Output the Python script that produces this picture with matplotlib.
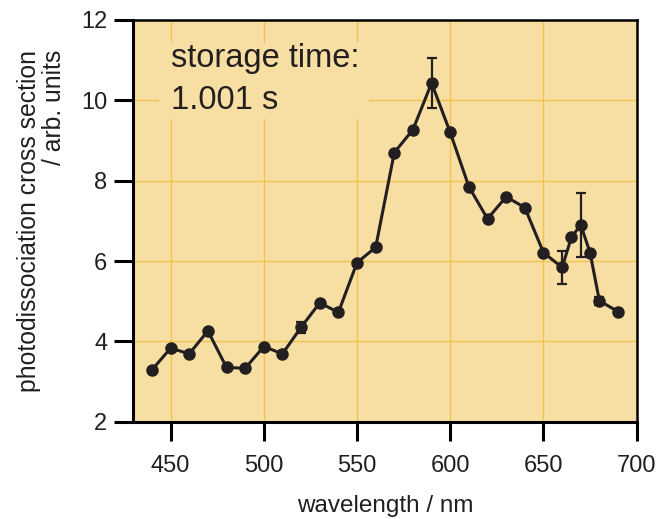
import matplotlib
matplotlib.use("Agg")
import matplotlib.pyplot as plt
import numpy as np
from matplotlib.patches import Rectangle

# Photodissociation spectrum (storage time 1.001 s)
wavelength = [440, 450, 460, 470, 480, 490, 500, 510, 520, 530, 540, 550, 560,
              570, 580, 590, 600, 610, 620, 630, 640, 650, 660, 665, 670, 675,
              680, 690]
cross_section = [3.29, 3.83, 3.69, 4.26, 3.35, 3.33, 3.87, 3.69, 4.35, 4.96,
                 4.72, 5.96, 6.34, 8.70, 9.27, 10.43, 9.20, 7.85, 7.05, 7.60,
                 7.33, 6.21, 5.84, 6.59, 6.90, 6.21, 5.01, 4.74]
uncertainty = [0, 0, 0, 0, 0, 0, 0, 0, 0.13, 0, 0, 0, 0, 0, 0, 0.62, 0, 0, 0,
               0, 0, 0, 0.41, 0, 0.80, 0, 0.10, 0]

x_ticks = [450, 500, 550, 600, 650, 700]
y_ticks = [2, 4, 6, 8, 10, 12]

plt.rcParams['font.family'] = ['Liberation Sans', 'DejaVu Sans']

bg = '#F7DFA4'
grid_c = '#F3C24C'
ink = '#231F20'

fig = plt.figure(figsize=(6.59, 5.19), dpi=100)
ax = fig.add_axes([0.2023, 0.1875, 0.9661 - 0.2023, 0.9615 - 0.1875])
ax.set_facecolor(bg)

wl = np.array(wavelength)
cs = np.array(cross_section)
err = np.array(uncertainty)
has_err = err > 0

ax.plot(wl, cs, '-o', color=ink, lw=2.2, ms=8, zorder=5)
ax.errorbar(wl[has_err], cs[has_err], yerr=err[has_err], fmt='none',
            ecolor=ink, elinewidth=1.6, capsize=3.9, capthick=1.6, zorder=6)

ax.set_xlim(430, 700)
ax.set_ylim(2, 12)
ax.set_xticks(x_ticks)
ax.set_yticks(y_ticks)

ax.grid(True, color=grid_c, lw=1.0, zorder=0)
ax.set_axisbelow(True)

for side in ['left', 'bottom']:
    ax.spines[side].set_linewidth(2.2)
for side in ['top', 'right']:
    ax.spines[side].set_linewidth(1.8)
for s in ax.spines.values():
    s.set_color('black')
    s.set_zorder(10)

ax.tick_params(axis='both', direction='out', length=13.7, width=2.2,
               labelsize=17, colors='black', labelcolor='#231F20')
ax.tick_params(axis='x', pad=10)
ax.tick_params(axis='y', pad=5)

ax.set_xlabel('wavelength / nm', fontsize=17.5, color='#231F20', labelpad=13)
ax.set_ylabel('photodissociation cross section\n/ arb. units', fontsize=17.8,
              color='#231F20', labelpad=11, linespacing=1.05,
              multialignment='right')

# Annotation box hiding the grid behind the label
ax.add_patch(Rectangle((0.051, 0.753), 0.418, 0.190, transform=ax.transAxes,
                       facecolor=bg, edgecolor='none', zorder=1))
ax.text(0.075, 0.884, 'storage time:', transform=ax.transAxes, fontsize=23.5,
        color='#231F20', va='baseline', ha='left', zorder=2)
ax.text(0.075, 0.778, '1.001 s', transform=ax.transAxes, fontsize=23.5,
        color='#231F20', va='baseline', ha='left', zorder=2)

fig.savefig('out.png', dpi=100)
